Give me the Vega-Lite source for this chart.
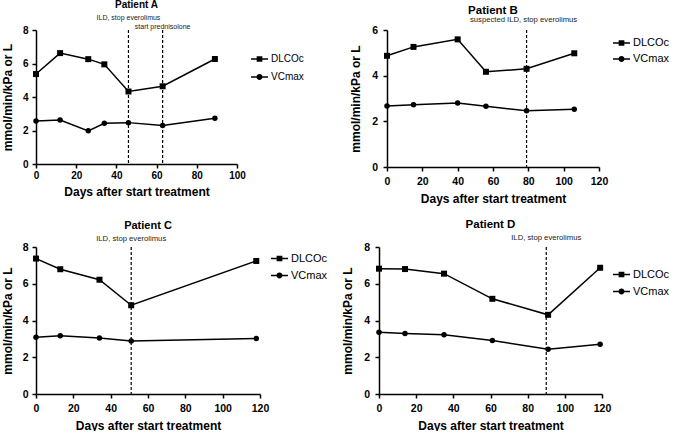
{
 "$schema": "https://vega.github.io/schema/vega-lite/v6.json",
 "padding": {"left": 1, "top": 0, "right": 0, "bottom": 0},
 "background": "white",
 "datasets": {
  "obs": [
   {"patient": "A", "series": "DLCOc", "day": 0, "value": 5.37},
   {"patient": "A", "series": "DLCOc", "day": 12, "value": 6.62},
   {"patient": "A", "series": "DLCOc", "day": 26, "value": 6.26},
   {"patient": "A", "series": "DLCOc", "day": 34, "value": 5.95},
   {"patient": "A", "series": "DLCOc", "day": 46, "value": 4.33},
   {"patient": "A", "series": "DLCOc", "day": 63, "value": 4.64},
   {"patient": "A", "series": "DLCOc", "day": 89, "value": 6.27},
   {"patient": "A", "series": "VCmax", "day": 0, "value": 2.57},
   {"patient": "A", "series": "VCmax", "day": 12, "value": 2.63},
   {"patient": "A", "series": "VCmax", "day": 26, "value": 1.98},
   {"patient": "A", "series": "VCmax", "day": 34, "value": 2.43},
   {"patient": "A", "series": "VCmax", "day": 46, "value": 2.47},
   {"patient": "A", "series": "VCmax", "day": 63, "value": 2.30},
   {"patient": "A", "series": "VCmax", "day": 89, "value": 2.73},
   {"patient": "B", "series": "DLCOc", "day": 0, "value": 4.87},
   {"patient": "B", "series": "DLCOc", "day": 15, "value": 5.26},
   {"patient": "B", "series": "DLCOc", "day": 40, "value": 5.59},
   {"patient": "B", "series": "DLCOc", "day": 56, "value": 4.17},
   {"patient": "B", "series": "DLCOc", "day": 79, "value": 4.30},
   {"patient": "B", "series": "DLCOc", "day": 106, "value": 4.98},
   {"patient": "B", "series": "VCmax", "day": 0, "value": 2.67},
   {"patient": "B", "series": "VCmax", "day": 15, "value": 2.73},
   {"patient": "B", "series": "VCmax", "day": 40, "value": 2.80},
   {"patient": "B", "series": "VCmax", "day": 56, "value": 2.66},
   {"patient": "B", "series": "VCmax", "day": 79, "value": 2.46},
   {"patient": "B", "series": "VCmax", "day": 106, "value": 2.53},
   {"patient": "C", "series": "DLCOc", "day": 0, "value": 7.37},
   {"patient": "C", "series": "DLCOc", "day": 13, "value": 6.79},
   {"patient": "C", "series": "DLCOc", "day": 34, "value": 6.22},
   {"patient": "C", "series": "DLCOc", "day": 51, "value": 4.83},
   {"patient": "C", "series": "DLCOc", "day": 118, "value": 7.24},
   {"patient": "C", "series": "VCmax", "day": 0, "value": 3.09},
   {"patient": "C", "series": "VCmax", "day": 13, "value": 3.17},
   {"patient": "C", "series": "VCmax", "day": 34, "value": 3.05},
   {"patient": "C", "series": "VCmax", "day": 51, "value": 2.88},
   {"patient": "C", "series": "VCmax", "day": 118, "value": 3.02},
   {"patient": "D", "series": "DLCOc", "day": 0, "value": 6.82},
   {"patient": "D", "series": "DLCOc", "day": 14, "value": 6.80},
   {"patient": "D", "series": "DLCOc", "day": 35, "value": 6.55},
   {"patient": "D", "series": "DLCOc", "day": 61, "value": 5.18},
   {"patient": "D", "series": "DLCOc", "day": 91, "value": 4.31},
   {"patient": "D", "series": "DLCOc", "day": 119, "value": 6.87},
   {"patient": "D", "series": "VCmax", "day": 0, "value": 3.36},
   {"patient": "D", "series": "VCmax", "day": 14, "value": 3.29},
   {"patient": "D", "series": "VCmax", "day": 35, "value": 3.23},
   {"patient": "D", "series": "VCmax", "day": 61, "value": 2.91},
   {"patient": "D", "series": "VCmax", "day": 91, "value": 2.44},
   {"patient": "D", "series": "VCmax", "day": 119, "value": 2.71}
  ],
  "events": [
   {"patient": "A", "day": 46, "label": "ILD, stop everolimus", "tier": "upper"},
   {"patient": "A", "day": 63, "label": "start prednisolone", "tier": "lower"},
   {"patient": "B", "day": 79, "label": "suspected  ILD, stop everolimus", "tier": "upper"},
   {"patient": "C", "day": 51, "label": "ILD, stop everolimus", "tier": "upper"},
   {"patient": "D", "day": 90, "label": "ILD, stop everolimus", "tier": "upper"}
  ]
 },
 "config": {
  "view": {"stroke": null},
  "font": "Liberation Sans",
  "axis": {"grid": false, "tickCount": 20, "labelOverlap": false, "labelFlush": false, "domainColor": "black", "domainWidth": 1.5, "tickColor": "black", "tickWidth": 1.5, "tickSize": 4, "labelColor": "black", "labelFont": "Liberation Sans", "labelFontWeight": "bold", "labelFontSize": 10.5, "titleColor": "black", "titleFont": "Liberation Sans", "titleFontWeight": "bold", "titleFontSize": 12},
  "legend": {"padding": 0, "labelFont": "Liberation Sans", "labelColor": "black", "labelFontSize": 11, "labelOffset": 3, "symbolSize": 289, "rowPadding": 3, "symbolStrokeWidth": 0},
  "title": {"font": "Liberation Sans", "fontWeight": "bold", "color": "black", "anchor": "middle"}
 },
 "resolve": {"scale": {"shape": "independent"}, "legend": {"shape": "independent"}},
 "spacing": 14,
 "vconcat": [
  {
   "resolve": {"scale": {"shape": "independent"}, "legend": {"shape": "independent"}},
   "spacing": 45,
   "columns": 2,
   "align": "none",
   "concat": [
    {
     "width": 201, "height": 134,
     "title": {"text": "Patient A", "fontSize": 10, "offset": 4},
     "layer": [
      {"data": {"name": "obs"}, "transform": [{"filter": "datum.patient === 'A'"}],
       "mark": {"type": "line", "color": "black", "strokeWidth": 1.5},
       "encoding": {
        "x": {"field": "day", "type": "quantitative", "scale": {"domain": [0, 100], "nice": false}, "axis": {"title": "Days after start treatment", "values": [0, 20, 40, 60, 80, 100], "format": "d", "tickCount": 20, "labelPadding": 2.5, "titlePadding": 6, "labelFontSize": 10}},
        "y": {"field": "value", "type": "quantitative", "scale": {"domain": [0, 8], "nice": false}, "axis": {"title": "mmol/min/kPa or L", "values": [0, 2, 4, 6, 8], "format": "d", "tickCount": 20, "labelPadding": 4, "titlePadding": 8, "labelFontSize": 10}},
        "detail": {"field": "series"}
       }},
      {"data": {"name": "obs"}, "transform": [{"filter": "datum.patient === 'A' && datum.series === 'DLCOc'"}],
       "mark": {"type": "point", "shape": "square", "filled": true, "color": "black", "opacity": 1, "size": 36},
       "encoding": {"x": {"field": "day", "type": "quantitative"}, "y": {"field": "value", "type": "quantitative"}}},
      {"data": {"name": "obs"}, "transform": [{"filter": "datum.patient === 'A' && datum.series === 'VCmax'"}],
       "mark": {"type": "point", "shape": "circle", "filled": true, "color": "black", "opacity": 1, "size": 30},
       "encoding": {"x": {"field": "day", "type": "quantitative"}, "y": {"field": "value", "type": "quantitative"}}},
      {"data": {"name": "events"}, "transform": [{"filter": "datum.patient === 'A'"}],
       "mark": {"type": "rule", "color": "black", "strokeWidth": 1.2, "strokeDash": [3, 2]},
       "encoding": {"x": {"field": "day", "type": "quantitative"}}},
      {"data": {"name": "events"}, "transform": [{"filter": "datum.patient === 'A' && datum.tier === 'upper'"}],
       "mark": {"type": "text", "fontSize": 7, "dy": -12, "color": "#222", "align": "center", "baseline": "middle"},
       "encoding": {"x": {"field": "day", "type": "quantitative"}, "y": {"datum": 8, "type": "quantitative"}, "text": {"field": "label"}}},
      {"data": {"name": "events"}, "transform": [{"filter": "datum.patient === 'A' && datum.tier === 'lower'"}],
       "mark": {"type": "text", "fontSize": 7, "dy": -3, "color": "#222", "align": "center", "baseline": "middle"},
       "encoding": {"x": {"field": "day", "type": "quantitative"}, "y": {"datum": 8, "type": "quantitative"}, "text": {"field": "label"}}},
      {"data": {"name": "obs"}, "transform": [{"filter": "false"}],
       "mark": {"type": "point", "filled": true, "color": "black", "opacity": 1},
       "encoding": {"shape": {"field": "series", "type": "nominal",
         "scale": {"domain": ["DLCOc", "VCmax"], "range": ["M-1,-0.09H1V0.09H-1ZM-0.335,-0.335H0.335V0.335H-0.335Z", "M-1,-0.09H1V0.09H-1ZM0.35,0A0.35,0.35,0,1,1,-0.35,0A0.35,0.35,0,1,1,0.35,0Z"]},
         "legend": {"orient": "none", "legendX": 215, "legendY": 20.5, "title": null, "labelFontSize": 10, "rowPadding": 4}}}}
     ]
    },
    {
     "width": 212, "height": 137,
     "title": {"text": "Patient B", "fontSize": 11.5, "offset": 0},
     "layer": [
      {"data": {"name": "obs"}, "transform": [{"filter": "datum.patient === 'B'"}],
       "mark": {"type": "line", "color": "black", "strokeWidth": 1.5},
       "encoding": {
        "x": {"field": "day", "type": "quantitative", "scale": {"domain": [0, 120], "nice": false}, "axis": {"title": "Days after start treatment", "values": [0, 20, 40, 60, 80, 100, 120], "format": "d", "tickCount": 20, "labelPadding": 5, "titlePadding": 6.5}},
        "y": {"field": "value", "type": "quantitative", "scale": {"domain": [0, 6], "nice": false}, "axis": {"title": "mmol/min/kPa or L", "values": [0, 2, 4, 6], "format": "d", "tickCount": 20, "labelPadding": 5.5, "titlePadding": 9}},
        "detail": {"field": "series"}
       }},
      {"data": {"name": "obs"}, "transform": [{"filter": "datum.patient === 'B' && datum.series === 'DLCOc'"}],
       "mark": {"type": "point", "shape": "square", "filled": true, "color": "black", "opacity": 1, "size": 36},
       "encoding": {"x": {"field": "day", "type": "quantitative"}, "y": {"field": "value", "type": "quantitative"}}},
      {"data": {"name": "obs"}, "transform": [{"filter": "datum.patient === 'B' && datum.series === 'VCmax'"}],
       "mark": {"type": "point", "shape": "circle", "filled": true, "color": "black", "opacity": 1, "size": 30},
       "encoding": {"x": {"field": "day", "type": "quantitative"}, "y": {"field": "value", "type": "quantitative"}}},
      {"data": {"name": "events"}, "transform": [{"filter": "datum.patient === 'B'"}],
       "mark": {"type": "rule", "color": "black", "strokeWidth": 1.2, "strokeDash": [3, 2]},
       "encoding": {"x": {"field": "day", "type": "quantitative"}}},
      {"data": {"name": "events"}, "transform": [{"filter": "datum.patient === 'B'"}],
       "mark": {"type": "text", "fontSize": 7.7, "dy": -10, "dx": -3, "color": "#222", "align": "center", "baseline": "middle"},
       "encoding": {"x": {"field": "day", "type": "quantitative"}, "y": {"datum": 6, "type": "quantitative"}, "text": {"field": "label"}}},
      {"data": {"name": "obs"}, "transform": [{"filter": "false"}],
       "mark": {"type": "point", "filled": true, "color": "black", "opacity": 1},
       "encoding": {"shape": {"field": "series", "type": "nominal",
         "scale": {"domain": ["DLCOc", "VCmax"], "range": ["M-1,-0.09H1V0.09H-1ZM-0.335,-0.335H0.335V0.335H-0.335Z", "M-1,-0.09H1V0.09H-1ZM0.35,0A0.35,0.35,0,1,1,-0.35,0A0.35,0.35,0,1,1,0.35,0Z"]},
         "legend": {"orient": "none", "legendX": 226, "legendY": 4.5, "title": null, "rowPadding": 2}}}}
     ]
    }
   ]
  },
  {
   "resolve": {"scale": {"shape": "independent"}, "legend": {"shape": "independent"}},
   "spacing": 13,
   "hconcat": [
    {
     "width": 224, "height": 147,
     "title": {"text": "Patient C", "fontSize": 11, "offset": 4},
     "layer": [
      {"data": {"name": "obs"}, "transform": [{"filter": "datum.patient === 'C'"}],
       "mark": {"type": "line", "color": "black", "strokeWidth": 1.5},
       "encoding": {
        "x": {"field": "day", "type": "quantitative", "scale": {"domain": [0, 120], "nice": false}, "axis": {"title": "Days after start treatment", "values": [0, 20, 40, 60, 80, 100, 120], "format": "d", "tickCount": 20, "labelPadding": 5, "titlePadding": 6.5}},
        "y": {"field": "value", "type": "quantitative", "scale": {"domain": [0, 8], "nice": false}, "axis": {"title": "mmol/min/kPa or L", "values": [0, 2, 4, 6, 8], "format": "d", "tickCount": 20, "labelPadding": 4, "titlePadding": 8}},
        "detail": {"field": "series"}
       }},
      {"data": {"name": "obs"}, "transform": [{"filter": "datum.patient === 'C' && datum.series === 'DLCOc'"}],
       "mark": {"type": "point", "shape": "square", "filled": true, "color": "black", "opacity": 1, "size": 36},
       "encoding": {"x": {"field": "day", "type": "quantitative"}, "y": {"field": "value", "type": "quantitative"}}},
      {"data": {"name": "obs"}, "transform": [{"filter": "datum.patient === 'C' && datum.series === 'VCmax'"}],
       "mark": {"type": "point", "shape": "circle", "filled": true, "color": "black", "opacity": 1, "size": 30},
       "encoding": {"x": {"field": "day", "type": "quantitative"}, "y": {"field": "value", "type": "quantitative"}}},
      {"data": {"name": "events"}, "transform": [{"filter": "datum.patient === 'C'"}],
       "mark": {"type": "rule", "color": "black", "strokeWidth": 1.2, "strokeDash": [3, 2]},
       "encoding": {"x": {"field": "day", "type": "quantitative"}}},
      {"data": {"name": "events"}, "transform": [{"filter": "datum.patient === 'C'"}],
       "mark": {"type": "text", "fontSize": 7.7, "dy": -8, "color": "#222", "align": "center", "baseline": "middle"},
       "encoding": {"x": {"field": "day", "type": "quantitative"}, "y": {"datum": 8, "type": "quantitative"}, "text": {"field": "label"}}},
      {"data": {"name": "obs"}, "transform": [{"filter": "false"}],
       "mark": {"type": "point", "filled": true, "color": "black", "opacity": 1},
       "encoding": {"shape": {"field": "series", "type": "nominal",
         "scale": {"domain": ["DLCOc", "VCmax"], "range": ["M-1,-0.09H1V0.09H-1ZM-0.335,-0.335H0.335V0.335H-0.335Z", "M-1,-0.09H1V0.09H-1ZM0.35,0A0.35,0.35,0,1,1,-0.35,0A0.35,0.35,0,1,1,0.35,0Z"]},
         "legend": {"orient": "none", "legendX": 235, "legendY": 3, "title": null}}}}
     ]
    },
    {
     "width": 223, "height": 147,
     "title": {"text": "Patient D", "fontSize": 11.5, "offset": 4},
     "layer": [
      {"data": {"name": "obs"}, "transform": [{"filter": "datum.patient === 'D'"}],
       "mark": {"type": "line", "color": "black", "strokeWidth": 1.5},
       "encoding": {
        "x": {"field": "day", "type": "quantitative", "scale": {"domain": [0, 120], "nice": false}, "axis": {"title": "Days after start treatment", "values": [0, 20, 40, 60, 80, 100, 120], "format": "d", "tickCount": 20, "labelPadding": 5, "titlePadding": 6.5}},
        "y": {"field": "value", "type": "quantitative", "scale": {"domain": [0, 8], "nice": false}, "axis": {"title": "mmol/min/kPa or L", "values": [0, 2, 4, 6, 8], "format": "d", "tickCount": 20, "labelPadding": 5.5, "titlePadding": 9}},
        "detail": {"field": "series"}
       }},
      {"data": {"name": "obs"}, "transform": [{"filter": "datum.patient === 'D' && datum.series === 'DLCOc'"}],
       "mark": {"type": "point", "shape": "square", "filled": true, "color": "black", "opacity": 1, "size": 36},
       "encoding": {"x": {"field": "day", "type": "quantitative"}, "y": {"field": "value", "type": "quantitative"}}},
      {"data": {"name": "obs"}, "transform": [{"filter": "datum.patient === 'D' && datum.series === 'VCmax'"}],
       "mark": {"type": "point", "shape": "circle", "filled": true, "color": "black", "opacity": 1, "size": 30},
       "encoding": {"x": {"field": "day", "type": "quantitative"}, "y": {"field": "value", "type": "quantitative"}}},
      {"data": {"name": "events"}, "transform": [{"filter": "datum.patient === 'D'"}],
       "mark": {"type": "rule", "color": "black", "strokeWidth": 1.2, "strokeDash": [3, 2]},
       "encoding": {"x": {"field": "day", "type": "quantitative"}}},
      {"data": {"name": "events"}, "transform": [{"filter": "datum.patient === 'D'"}],
       "mark": {"type": "text", "fontSize": 7.7, "dy": -9, "color": "#222", "align": "center", "baseline": "middle"},
       "encoding": {"x": {"field": "day", "type": "quantitative"}, "y": {"datum": 8, "type": "quantitative"}, "text": {"field": "label"}}},
      {"data": {"name": "obs"}, "transform": [{"filter": "false"}],
       "mark": {"type": "point", "filled": true, "color": "black", "opacity": 1},
       "encoding": {"shape": {"field": "series", "type": "nominal",
         "scale": {"domain": ["DLCOc", "VCmax"], "range": ["M-1,-0.09H1V0.09H-1ZM-0.335,-0.335H0.335V0.335H-0.335Z", "M-1,-0.09H1V0.09H-1ZM0.35,0A0.35,0.35,0,1,1,-0.35,0A0.35,0.35,0,1,1,0.35,0Z"]},
         "legend": {"orient": "none", "legendX": 234, "legendY": 19, "title": null}}}}
     ]
    }
   ]
  }
 ]
}
